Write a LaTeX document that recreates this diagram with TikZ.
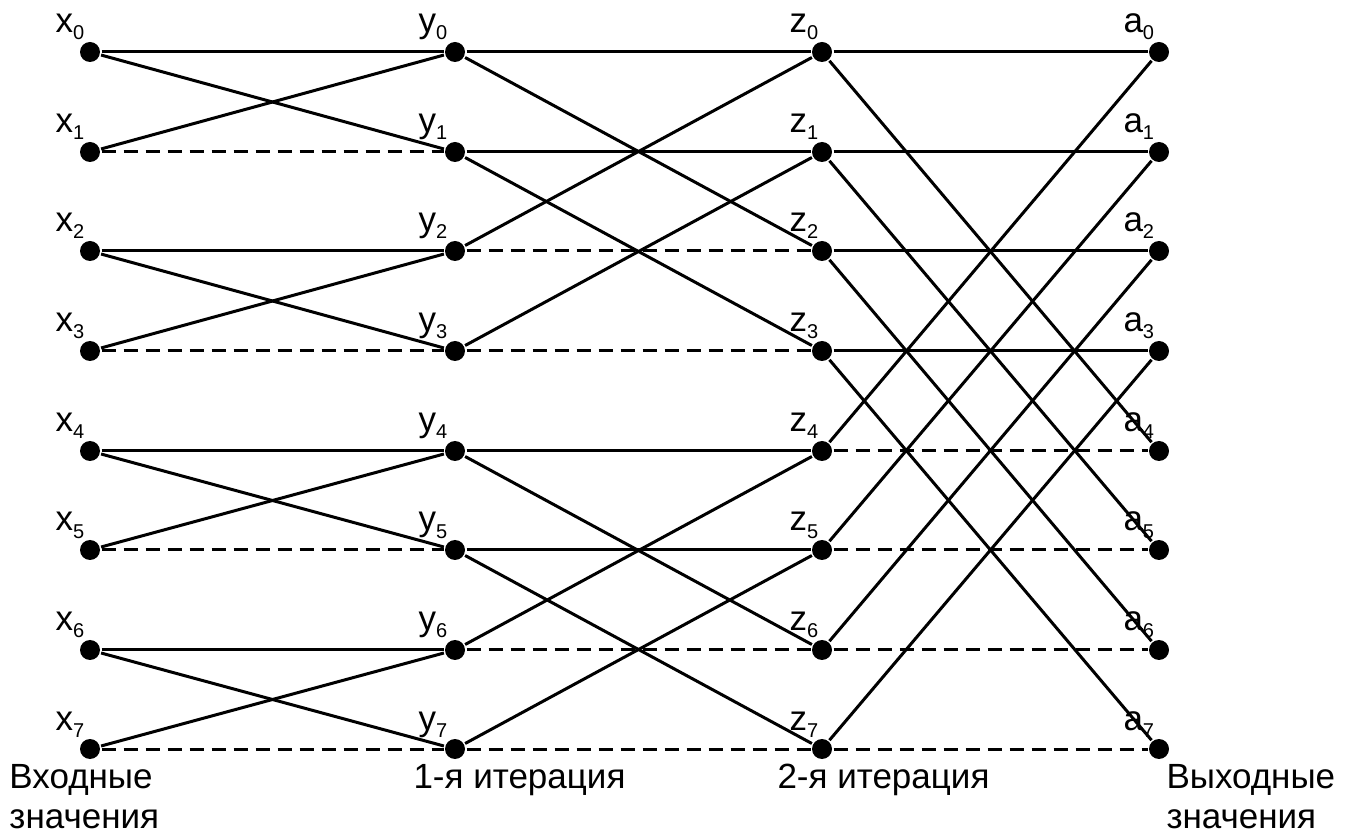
\documentclass[tikz,border=0pt]{standalone}
\usepackage{fontspec}
\setmainfont{Liberation Sans}
\newcommand\lsub[1]{\raisebox{-3.5pt}{\fontsize{10}{10}\selectfont #1}}
\begin{document}
\begin{tikzpicture}[x=0.5pt,y=-0.5pt, line width=1.5pt,
  dot/.style={circle,fill=black,inner sep=0pt,minimum size=10pt},
  lbl/.style={anchor=base west,inner sep=0pt,font=\fontsize{17.5}{20}\selectfont},
  dsh/.style={dash pattern=on 7pt off 4pt}]
\useasboundingbox (0,0) rectangle (1357,834);
\foreach \i/\yy in {0/52,1/152,2/251,3/351,4/451,5/550,6/650,7/749}{
  \node[dot] (x\i) at (90,\yy) {};
  \node[dot] (y\i) at (455,\yy) {};
  \node[dot] (z\i) at (822,\yy) {};
  \node[dot] (a\i) at (1159,\yy) {};
  \node[lbl] (lx\i) at ([shift={(-36,-19)}]x\i.center) {x\lsub{\i}};
  \node[lbl] (ly\i) at ([shift={(-38,-19)}]y\i.center) {y\lsub{\i}};
  \node[lbl] (lz\i) at ([shift={(-34,-19)}]z\i.center) {z\lsub{\i}};
  \node[lbl] (la\i) at ([shift={(-37,-19)}]a\i.center) {a\lsub{\i}};
}
% stage 1
\foreach \i/\j in {0/1,2/3,4/5,6/7}{
  \draw (x\i) -- (y\i);
  \draw (x\i) -- (y\j);
  \draw (x\j) -- (y\i);
  \draw[dsh] (x\j) -- (y\j);
}
% stage 2
\foreach \i/\j in {0/2,1/3,4/6,5/7}{
  \draw (y\i) -- (z\i);
  \draw (y\i) -- (z\j);
  \draw (y\j) -- (z\i);
  \draw[dsh] (y\j) -- (z\j);
}
% stage 3
\foreach \i/\j in {0/4,1/5,2/6,3/7}{
  \draw (z\i) -- (a\i);
  \draw (z\i) -- (a\j);
  \draw (z\j) -- (a\i);
  \draw[dsh] (z\j) -- (a\j);
}
\node[lbl] (in1) at (8,788) {Входные};
\node[lbl] (in2) at (8,828) {значения};
\node[lbl] (it1) at (412,788) {1-я итерация};
\node[lbl] (it2) at (776,788) {2-я итерация};
\node[lbl] (out1) at (1165,788) {Выходные};
\node[lbl] (out2) at (1165,828) {значения};
\end{tikzpicture}
\end{document}
